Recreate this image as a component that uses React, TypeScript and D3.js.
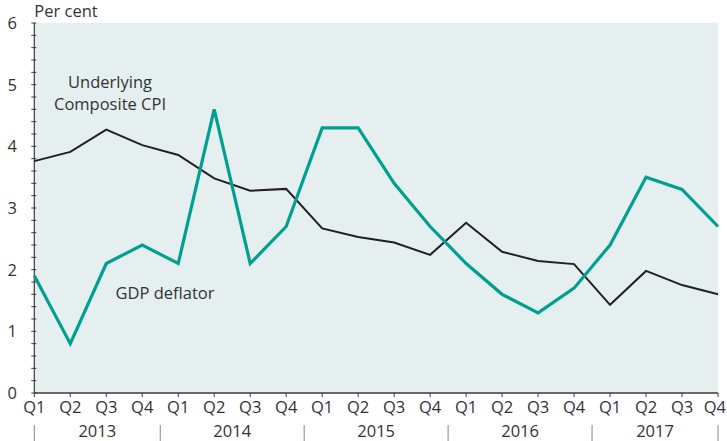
import React from "react";
import * as d3 from "d3";

const years = ["2013", "2014", "2015", "2016", "2017"];
const quarters = ["Q1", "Q2", "Q3", "Q4"];
const gdpDeflator = [1.9, 0.8, 2.1, 2.4, 2.1, 4.6, 2.1, 2.7, 4.3, 4.3, 3.4, 2.7, 2.1, 1.6, 1.3, 1.7, 2.4, 3.5, 3.3, 2.7];
const underlyingCPI = [3.76, 3.91, 4.27, 4.02, 3.86, 3.48, 3.28, 3.31, 2.67, 2.53, 2.44, 2.24, 2.76, 2.29, 2.14, 2.09, 1.43, 1.98, 1.75, 1.6];
const yTicks = [0, 1, 2, 3, 4, 5, 6];

const W = 727, H = 441;
const left = 34.3, right = 718, top = 23, bottom = 393;
const FONT = "'Open Sans', 'Noto Sans', sans-serif";
const FS = 16.5;

export default function App() {
  const n = years.length * quarters.length;
  const x = d3.scaleLinear().domain([0, n - 1]).range([left, right]);
  const y = d3.scaleLinear().domain([0, 6]).range([bottom, top]);
  const line = d3.line<number>().x((_, i) => x(i)).y((d) => y(d));
  const minor = d3.range(0, 6.001, 0.2);
  const idx = d3.range(n);
  const seps = d3.range(years.length + 1).map((k) => Math.max(left, Math.min(right, x(k * 4 - 0.5))));

  return (
    <svg width={W} height={H} style={{ position: "absolute", left: 0, top: 0 }} fontFamily={FONT}>
      <rect x={left} y={top} width={right - left} height={bottom - top} fill="#e5efef" />
      {minor.map((v, i) => (
        <line key={"m" + i} x1={left - 3} x2={left + 2} y1={y(v)} y2={y(v)} stroke="#3a3a3a" strokeWidth={1} />
      ))}
      {yTicks.map((v) => (
        <text key={"yt" + v} x={17} y={y(v)} dy="0.36em" fontSize={FS} textAnchor="end" fill="#333">{v}</text>
      ))}
      <text x={left} y={top - 6} fontSize={FS} fill="#333">Per cent</text>
      <line x1={left} x2={left} y1={top} y2={bottom} stroke="#3a3a3a" strokeWidth={1.2} />
      <line x1={left} x2={right} y1={bottom} y2={bottom} stroke="#3a3a3a" strokeWidth={1.5} />
      {idx.map((i) => (
        <g key={"xq" + i}>
          <line x1={x(i)} x2={x(i)} y1={bottom} y2={bottom + 4} stroke="#3a3a3a" strokeWidth={1} />
          <text
            x={i === n - 1 ? W - 1 : x(i)}
            y={413}
            fontSize={FS}
            textAnchor={i === n - 1 ? "end" : "middle"}
            fill="#333"
          >
            {quarters[i % 4]}
          </text>
        </g>
      ))}
      {seps.map((sx, i) => (
        <line key={"s" + i} x1={sx} x2={sx} y1={425} y2={441} stroke="#888" strokeWidth={1} />
      ))}
      {years.map((yr, k) => (
        <text key={yr} x={(seps[k] + seps[k + 1]) / 2} y={437} fontSize={FS} textAnchor="middle" fill="#333">{yr}</text>
      ))}
      <path d={line(underlyingCPI) || ""} fill="none" stroke="#231f20" strokeWidth={2} strokeLinejoin="miter" />
      <path d={line(gdpDeflator) || ""} fill="none" stroke="#00a090" strokeWidth={3.2} strokeLinejoin="miter" />
      <text x={110} y={88} fontSize={FS} textAnchor="middle" fill="#333">Underlying</text>
      <text x={110} y={110} fontSize={FS} textAnchor="middle" fill="#333">Composite CPI</text>
      <text x={165} y={299} fontSize={FS} textAnchor="middle" fill="#333">GDP deflator</text>
    </svg>
  );
}
